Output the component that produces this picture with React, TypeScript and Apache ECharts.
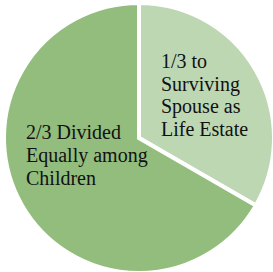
import React, { useEffect, useRef } from "react";
import * as echarts from "echarts";

const categories = ["1/3 to\nSurviving\nSpouse as\nLife Estate", "2/3 Divided\nEqually among\nChildren"];
const shares = [1, 2];
const colors = ["#BED7B3", "#93BD7D"];

export default function App() {
  const ref = useRef<HTMLDivElement>(null);
  useEffect(() => {
    if (!ref.current) return;
    const chart = echarts.init(ref.current, null, { renderer: "svg" });
    chart.setOption({
      animation: false,
      backgroundColor: "#ffffff",
      textStyle: { fontFamily: "Liberation Serif" },
      series: [
        {
          type: "pie",
          center: [139, 138],
          radius: [0, 135],
          startAngle: 90,
          clockwise: true,
          label: { show: false },
          labelLine: { show: false },
          itemStyle: { borderColor: "#ffffff", borderWidth: 4, borderJoin: "miter" },
          data: categories.map((c, i) => ({ name: c, value: shares[i], itemStyle: { color: colors[i] } })),
        },
      ],
      graphic: [
        {
          type: "text",
          left: 161,
          top: 50,
          z: 100,
          style: {
            text: categories[0],
            font: "20px serif",
            lineHeight: 22.5,
            fill: "#111111",
            align: "left",
          },
        },
        {
          type: "text",
          left: 26,
          top: 120,
          z: 100,
          style: {
            text: categories[1],
            font: "20px \"Times New Roman\", serif",
            lineHeight: 23,
            fill: "#111111",
            align: "left",
          },
        },
      ],
    });
    return () => chart.dispose();
  }, []);
  return <div ref={ref} style={{ position: "fixed", left: 0, top: 0, width: 273, height: 272 }} />;
}
